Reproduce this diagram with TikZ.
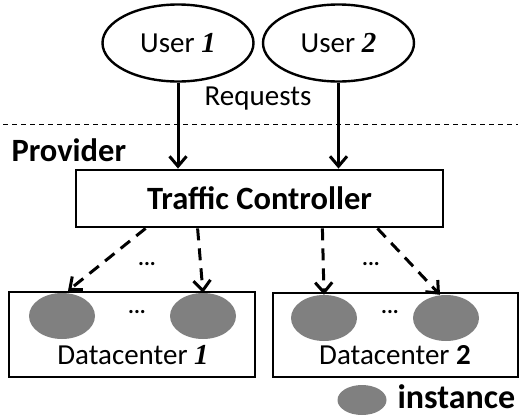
\documentclass[tikz,border=0pt]{standalone}
\usepackage{fontspec}
\setmainfont{Carlito}
\newfontfamily\numfont{Liberation Serif}
\usetikzlibrary{shapes.geometric,arrows.meta}
\tikzset{
  user/.style={ellipse,draw,line width=2.4pt,minimum width=151pt,minimum height=77pt,inner sep=0pt},
  boxnode/.style={rectangle,draw,line width=2.8pt,inner sep=0pt},
  inst/.style={ellipse,fill=black!50,minimum width=66pt,minimum height=46pt,inner sep=0pt},
  req/.style={line width=3pt,-{Straight Barb[length=10pt,width=17pt,line width=3pt]}},
  route/.style={line width=3pt,dash pattern=on 12pt off 8pt,-{Straight Barb[length=10pt,width=17pt,line width=3pt]}},
  dots/.style={font=\fontsize{22}{24}\selectfont\bfseries},
  regtext/.style={font=\fontsize{29}{33}\selectfont},
  boldtext/.style={font=\fontsize{32.5}{36}\selectfont\bfseries}
}
\newcommand{\idx}[1]{{\numfont\bfseries\itshape #1}}
\begin{document}
\begin{tikzpicture}[x=1pt,y=-1pt,regtext]
\useasboundingbox (0,0) rectangle (520,418);

% users
\node[user] (u1) at (178,43) {User \idx{1}};
\node[user] (u2) at (338.5,43) {User \idx{2}};
\node (req) at (258,99) {Requests};

% provider boundary
\coordinate (bl) at (3,124);
\coordinate (br) at (518,124);
\draw[line width=1pt,dash pattern=on 5pt off 4pt] (bl) -- (br);
\node[anchor=west,boldtext] (prov) at (8,150) {Provider};

% traffic controller
\node[boxnode,minimum width=367pt,minimum height=57pt,boldtext] (tc) at (259.5,198.5) {Traffic Controller};
\draw[req] (u1.south) -- (u1.south |- tc.north);
\draw[req] (u2.south) -- (u2.south |- tc.north);

% datacenters
\node[boxnode,minimum width=246pt,minimum height=85pt] (dc1) at (132,334.5) {};
\node[boxnode,minimum width=245pt,minimum height=84pt] (dc2) at (395.5,335) {};
\node[inst] (i11) at (62,316) {};
\node[inst] (i12) at (203,316) {};
\node[inst] (i21) at (324,318) {};
\node[inst] (i22) at (446,318) {};
\node[dots] (d1) at (137,312) {...};
\node[dots] (d2) at (390,312) {...};
\node (l1) at (133,355) {Datacenter \idx{1}};
\node (l2) at (395,355) {Datacenter \textbf{2}};

% routing
\coordinate (o1) at ([xshift=71pt]tc.south west);
\coordinate (o2) at ([xshift=123pt]tc.south west);
\coordinate (o3) at ([xshift=-122pt]tc.south east);
\coordinate (o4) at ([xshift=-67pt]tc.south east);
\coordinate (t1) at ([xshift=6pt,yshift=2pt]i11.north);
\coordinate (t4) at ([xshift=-6pt]i22.north);
\draw[route] (o1) -- (t1);
\draw[route] (o2) -- (i12.north);
\draw[route] (o3) -- (i21.north);
\draw[route] (o4) -- (t4);
\node[dots] (d3) at (147,264) {...};
\node[dots] (d4) at (371,264) {...};

% legend
\node[inst,minimum width=49pt,minimum height=30pt] (leg) at (362,400) {};
\node[anchor=west,font=\fontsize{34}{38}\selectfont\bfseries] (legt) at (394,397) {instance};
\end{tikzpicture}
\end{document}
